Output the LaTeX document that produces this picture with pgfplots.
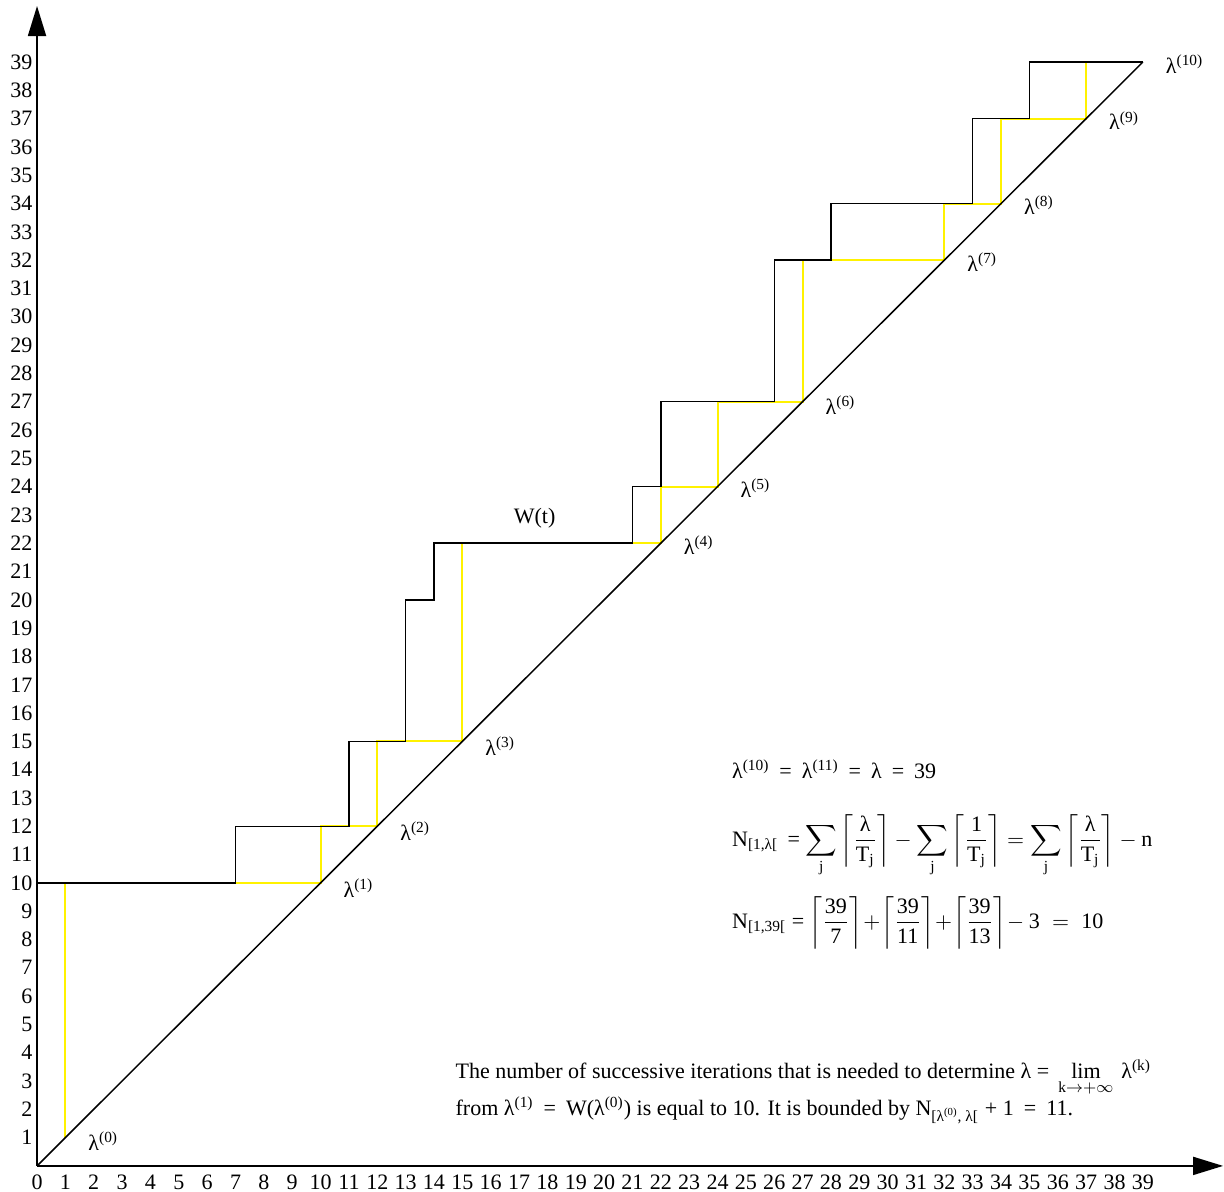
\documentclass[border=0pt]{standalone}
\usepackage{amsmath}
\usepackage{fontspec}
\setmainfont{Liberation Serif}
\usepackage{pgfplots}
\pgfplotsset{compat=1.18}
\usetikzlibrary{arrows.meta}
\newcommand{\lam}{λ}
\newcommand{\T}[1]{\text{#1}}
\newcommand{\eq}{\hspace{5pt}=\hspace{5pt}}
\begin{document}
\begin{tikzpicture}
\begin{axis}[
  x=14.165pt, y=14.14pt,
  xmin=0, xmax=41.83, ymin=0, ymax=40.98,
  axis lines=left,
  axis line style={line width=0.9pt, -{Triangle[length=15pt, width=9pt]}},
  xtick={0,...,39}, ytick={1,...,39},
  tick style={draw=none},
  /pgf/number format/assume math mode=true,
  tick label style={font=\fontsize{11}{12}\selectfont},
  xticklabel style={inner sep=1pt, yshift=-1pt},
  yticklabel style={inner sep=0pt},
  clip=false,
]
\addplot[yellow, line width=1pt] coordinates {(1,1)(1,10)(10,10)(10,12)(12,12)(12,15)(15,15)(15,22)(22,22)(22,24)(24,24)(24,27)(27,27)(27,32)(32,32)(32,34)(34,34)(34,37)(37,37)(37,39)(39,39)};
\addplot[black, line width=0.75pt] coordinates {(0,10)(7,10)(7,12)(11,12)(11,15)(13,15)(13,20)(14,20)(14,22)(21,22)(21,24)(22,24)(22,27)(26,27)(26,32)(28,32)(28,34)(33,34)(33,37)(35,37)(35,39)(39,39)};
\addplot[black, line width=0.75pt] coordinates {(0,0)(39,39)};

\path (rel axis cs:0,1) ++(0,3pt) (rel axis cs:0,0) ++(-18.5pt,0);

\begin{scope}[every node/.style={anchor=base west, inner sep=0pt, font=\fontsize{11}{13}\selectfont}]
\node at (axis cs:1.8,0.55) {\lam$^{\T{(0)}}$};
\node at (axis cs:10.8,9.5) {\lam$^{\T{(1)}}$};
\node at (axis cs:12.8,11.5) {\lam$^{\T{(2)}}$};
\node at (axis cs:15.8,14.5) {\lam$^{\T{(3)}}$};
\node at (axis cs:22.8,21.6) {\lam$^{\T{(4)}}$};
\node at (axis cs:24.8,23.6) {\lam$^{\T{(5)}}$};
\node at (axis cs:27.8,26.55) {\lam$^{\T{(6)}}$};
\node at (axis cs:32.8,31.6) {\lam$^{\T{(7)}}$};
\node at (axis cs:34.8,33.6) {\lam$^{\T{(8)}}$};
\node at (axis cs:37.8,36.6) {\lam$^{\T{(9)}}$};
\node at (axis cs:39.8,38.6) {\lam$^{\T{(10)}}$};
\node at (axis cs:16.8,22.7) {W(t)};

\node at (axis cs:24.5,13.7) {\lam$^{\T{(10)}}$\eq\lam$^{\T{(11)}}$\eq\lam\eq39};
\node at (axis cs:24.5,11.3) {N$_{\T{[1,\lam[}}$\ \,=\ $\displaystyle\sum_{\T{j}}\left\lceil\frac{\T{\lam}}{\T{T}_{\T{j}}}\right\rceil-\sum_{\T{j}}\left\lceil\frac{\T{1}}{\T{T}_{\T{j}}}\right\rceil = \sum_{\T{j}}\left\lceil\frac{\T{\lam}}{\T{T}_{\T{j}}}\right\rceil-\T{n}$};
\node at (axis cs:24.5,8.4) {N$_{\T{[1,39[}}$\ =\ $\left\lceil\dfrac{\T{39}}{\T{7}}\right\rceil\!+\!\left\lceil\dfrac{\T{39}}{\T{11}}\right\rceil\!+\!\left\lceil\dfrac{\T{39}}{\T{13}}\right\rceil\!-\T{3}\;=\;\T{10}$};

\node at (axis cs:14.75,3.1) {The number of successive iterations that is needed to determine \lam{} = \,$\mathop{\T{lim}}\limits_{\T{k}\to+\infty}$\hspace{4pt}\lam$^{\T{(k)}}$};
\node at (axis cs:14.75,1.77) {from \lam$^{\T{(1)}}$\eq W(\lam$^{\T{(0)}}$) is equal to 10. It is bounded by N$_{\T{[\lam$^{\T{(0)}}$, \lam[}}$\hspace{3pt}+ 1\eq11.};
\end{scope}
\end{axis}
\end{tikzpicture}
\end{document}
